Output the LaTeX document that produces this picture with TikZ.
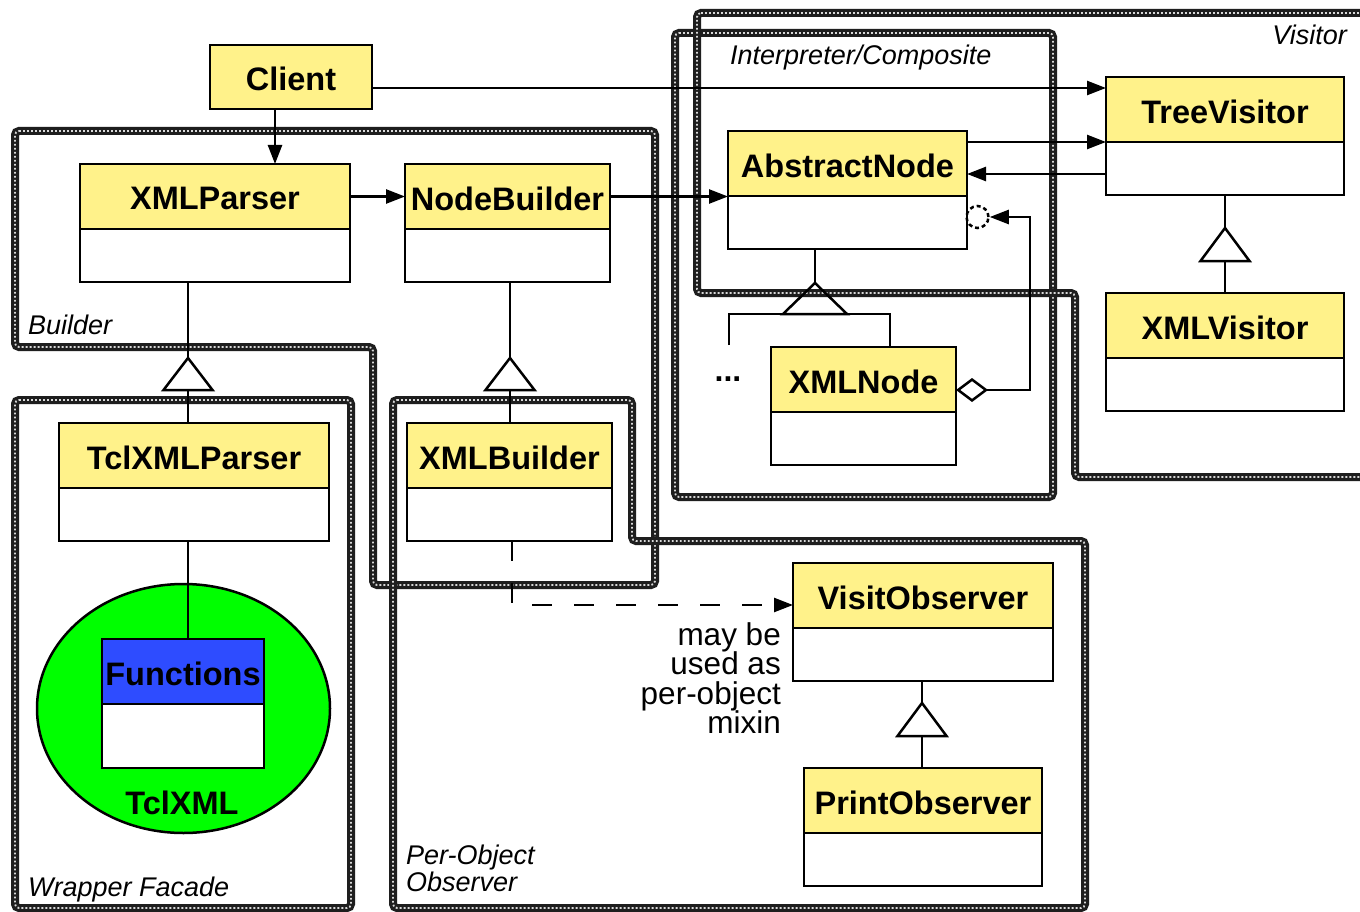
\documentclass[tikz,border=0pt]{standalone}
\usepackage{fontspec}
\setmainfont{Liberation Sans}
\usetikzlibrary{arrows.meta,calc}
\definecolor{yel}{RGB}{255,242,138}
\definecolor{grn}{RGB}{0,255,0}
\definecolor{blu}{RGB}{46,76,255}
\definecolor{patc}{RGB}{30,30,30}
\tikzset{
  box/.style={draw=black, line width=2.5pt, inner sep=0pt, outer sep=0pt, fill=white},
  conn/.style={line width=2.5pt, line join=miter},
  tip/.style={-{Triangle[length=19pt,width=14pt]}},
  gen/.style={line width=2.5pt, line join=miter},
  patA/.style={line width=8pt, draw=patc, rounded corners=4pt},
  patB/.style={line width=1.8pt, draw=white!85!black, dash pattern=on 1.8pt off 2.2pt, rounded corners=4pt},
  lbl/.style={font=\fontsize{27}{27}\selectfont\itshape, inner sep=0pt},
  clsfont/.style={font=\fontsize{32.5}{36}\selectfont\bfseries},
}
\newcommand\umlbox[8][yel]{%
  \pgfmathsetmacro\bw{#5-#3}%
  \pgfmathsetmacro\bh{#7-#4}%
  \pgfmathsetmacro\hh{#6-#4}%
  \node[box, anchor=north west, minimum width=\bw pt, minimum height=\bh pt] (#2) at (#3,#4) {};
  \node[box, fill=#1, anchor=north west, minimum width=\bw pt, minimum height=\hh pt] (#2-h) at (#3,#4) {};
  \node[clsfont, inner sep=0pt] (#2-t) at ($(#2-h.center)+(0,2)$) {#8};
}
\newcommand\patdraw[1]{\draw[patA] #1; \draw[patB] #1;}
\begin{document}
\begin{tikzpicture}[x=1pt,y=-1pt]
\clip (0,0) rectangle (1360,912);
\fill[white] (0,0) rectangle (1360,912);
% pattern regions
\patdraw{(15,131) -- (655,131) -- (655,585) -- (373,585) -- (373,347) -- (15,347) -- cycle}
\patdraw{(15,400) -- (351,400) -- (351,908) -- (15,908) -- cycle}
\patdraw{(393,400) -- (632,400) -- (632,541) -- (1085,541) -- (1085,908) -- (393,908) -- cycle}
\patdraw{(675,33) -- (1053,33) -- (1053,497) -- (675,497) -- cycle}
\patdraw{(697,13) -- (1380,13) -- (1380,477) -- (1075,477) -- (1075,293) -- (697,293) -- cycle}
% region labels
\node[lbl, anchor=base west] (lbBuilder) at (28,334) {Builder};
\node[lbl, anchor=base west] (lbWrapper) at (28,896) {Wrapper Facade};
\node[lbl, anchor=base west, align=left] (lbPer) at (406,891) {Per-Object\\Observer};
\node[lbl, anchor=base west] (lbInterp) at (730,65) {Interpreter/Composite};
\node[lbl, anchor=base east] (lbVisitor) at (1347,45) {Visitor};
% TclXML ellipse
\draw[line width=2.5pt, fill=grn] (183.5,708.5) ellipse [x radius=146.5, y radius=124.5];
\node[clsfont, inner sep=0pt] (tclxml) at (182,803) {TclXML};
% classes
\umlbox{Client}{210}{45}{372}{109}{109}{Client}
\umlbox{XMLParser}{80}{164}{350}{229}{282}{XMLParser}
\umlbox{NodeBuilder}{405}{164}{610}{229}{282}{NodeBuilder}
\umlbox{AbstractNode}{728}{131}{967}{196}{249}{AbstractNode}
\umlbox{TreeVisitor}{1106}{77}{1344}{142}{195}{TreeVisitor}
\umlbox{XMLVisitor}{1106}{293}{1344}{358}{411}{XMLVisitor}
\umlbox{XMLNode}{771}{347}{956}{412}{465}{XMLNode}
\umlbox{TclXMLParser}{59}{423}{329}{488}{541}{TclXMLParser}
\umlbox{XMLBuilder}{407}{423}{612}{488}{541}{XMLBuilder}
\umlbox{VisitObserver}{793}{563}{1053}{628}{681}{VisitObserver}
\umlbox{PrintObserver}{804}{768}{1042}{833}{886}{PrintObserver}
\umlbox[blu]{Functions}{102}{639}{264}{704}{768}{Functions}
% associations
\coordinate (c1) at (372,88);
\draw[conn,tip] (Client.east |- c1) -- (TreeVisitor.west |- c1);
\coordinate (c2) at (275,0);
\draw[conn,tip] (Client.south -| c2) -- (XMLParser.north -| c2);
\draw[conn,tip] (XMLParser-h.east) -- (NodeBuilder-h.west);
\draw[conn,tip] (NodeBuilder-h.east) -- (AbstractNode.west |- NodeBuilder-h.east);
\draw[conn,tip] (AbstractNode.east |- TreeVisitor-h.south) -- (TreeVisitor-h.south west);
\coordinate (c3) at (0,174);
\draw[conn,tip] (TreeVisitor.west |- c3) -- (AbstractNode.east |- c3);
% generalizations
\coordinate (g1) at (188,358);
\draw[gen] (XMLParser.south -| g1) -- (g1);
\draw[gen] (g1) -- ++(24.5,32) -- ++(-49,0) -- cycle;
\draw[gen] ($(g1)+(0,32)$) -- (TclXMLParser.north -| g1);
\coordinate (g2) at (510,358);
\draw[gen] (NodeBuilder.south -| g2) -- (g2);
\draw[gen] (g2) -- ++(24.5,32) -- ++(-49,0) -- cycle;
\draw[gen] ($(g2)+(0,32)$) -- (XMLBuilder.north -| g2);
\coordinate (g3) at (1225,228);
\draw[gen] (TreeVisitor.south -| g3) -- (g3);
\draw[gen] (g3) -- ++(24.5,33) -- ++(-49,0) -- cycle;
\draw[gen] ($(g3)+(0,33)$) -- (XMLVisitor.north -| g3);
\coordinate (g4) at (922,703);
\draw[gen] (VisitObserver.south -| g4) -- (g4);
\draw[gen] (g4) -- ++(24.5,33) -- ++(-49,0) -- cycle;
\draw[gen] ($(g4)+(0,33)$) -- (PrintObserver.north -| g4);
\coordinate (g5) at (815,283);
\draw[gen] (AbstractNode.south -| g5) -- (g5);
\draw[gen] (g5) -- ++(32,31) -- ++(-64,0) -- cycle;
\coordinate (g5l) at (729,314);
\coordinate (g5r) at (890,314);
\coordinate (g5d) at (729,345);
\draw[gen] (g5d) -- (g5l) -- (g5r) -- (XMLNode.north -| g5r);
\node[font=\fontsize{32}{34}\selectfont\bfseries, inner sep=0pt] (dots) at (728,379) {...};
% Functions link
\draw[gen] (TclXMLParser.south -| g1) -- (Functions.north -| g1);
% aggregation
\node[draw, circle, line width=2.5pt, dash pattern=on 4pt off 3pt, minimum size=22pt, inner sep=0pt] (circ) at (977.5,217) {};
\coordinate (ag0) at (956,390);
\coordinate (ag1) at (1030,390);
\draw[conn, {Diamond[open,length=32pt,width=24pt]}-{Triangle[length=19pt,width=14pt]}] (XMLNode.east |- ag0) -- (ag1) |- (circ.east);
% dashed usage
\coordinate (d0) at (512,0);
\coordinate (d1) at (0,605);
\draw[conn, dash pattern=on 20pt off 22pt, tip] (XMLBuilder.south -| d0) |- (VisitObserver.west |- d1);
\node[font=\fontsize{31.5}{29.5}\selectfont, align=right, anchor=east, inner sep=0pt] (note) at (781,678) {may be\\used as\\per-object\\mixin};
\end{tikzpicture}
\end{document}
